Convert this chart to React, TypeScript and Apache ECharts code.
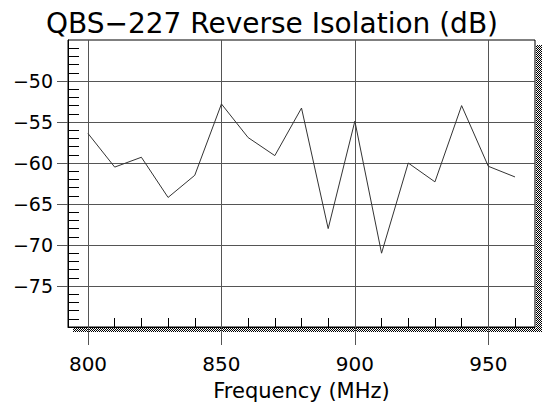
import React, { useEffect, useRef } from 'react';
import * as echarts from 'echarts';

const frequencies = [800, 810, 820, 830, 840, 850, 860, 870, 880, 890, 900, 910, 920, 930, 940, 950, 960];
const isolation = [-56.4, -60.5, -59.3, -64.2, -61.5, -52.8, -56.9, -59.1, -53.3, -68.0, -54.9, -71.0, -60.0, -62.3, -53.0, -60.4, -61.7];
const xTickValues = [800, 850, 900, 950];
const yTickValues = [-75, -70, -65, -60, -55, -50];
const titleText = 'QBS\u2212227 Reverse Isolation (dB)';
const xAxisName = 'Frequency (MHz)';

const FONT = 'DejaVu Sans';

function makeChecker(): string {
  const c = document.createElement('canvas');
  c.width = 2;
  c.height = 2;
  const ctx = c.getContext('2d')!;
  ctx.fillStyle = '#fff';
  ctx.fillRect(0, 0, 2, 2);
  ctx.fillStyle = '#000';
  ctx.fillRect(0, 0, 1, 1);
  ctx.fillRect(1, 1, 1, 1);
  return c.toDataURL();
}

export default function App() {
  const ref = useRef<HTMLDivElement>(null);
  useEffect(() => {
    if (!ref.current) return;
    const chart = echarts.init(ref.current, null, { renderer: 'svg' });
    const pattern: any = { image: makeChecker(), repeat: 'repeat', imageWidth: 2, imageHeight: 2 };
    const gridColor = '#555';
    chart.setOption({
      animation: false,
      backgroundColor: '#fff',
      title: {
        text: titleText,
        left: 'center',
        top: 4,
        textStyle: { fontFamily: FONT, fontSize: 28, fontWeight: 'normal', color: '#000' },
      },
      grid: {
        left: 68,
        top: 40,
        width: 467,
        height: 287,
        show: true,
        borderColor: '#000',
        borderWidth: 1,
        backgroundColor: 'transparent',
      },
      graphic: [
        { type: 'rect', shape: { x: 536, y: 45, width: 6, height: 287 }, style: { fill: pattern }, silent: true },
        { type: 'rect', shape: { x: 73, y: 328, width: 469, height: 4 }, style: { fill: pattern }, silent: true },
      ],
      xAxis: {
        type: 'value',
        min: 792.5,
        max: 967.5,
        splitNumber: 4,
        axisLine: { show: true, lineStyle: { color: '#000', width: 1 } },
        axisTick: { show: true, length: 18, customValues: xTickValues, lineStyle: { color: gridColor } },
        minorTick: { show: true, splitNumber: 5, length: -9, lineStyle: { color: '#000' } },
        splitLine: { show: true, lineStyle: { color: gridColor, width: 1 } },
        axisLabel: { customValues: xTickValues, margin: 27, fontFamily: FONT, fontSize: 20, color: '#000' },
        name: xAxisName,
        nameLocation: 'middle',
        nameGap: 53,
        nameTextStyle: { fontFamily: FONT, fontSize: 21, color: '#000' },
      },
      yAxis: {
        type: 'value',
        min: -80,
        max: -45,
        interval: 5,
        axisLine: { show: true, lineStyle: { color: '#000', width: 1 } },
        axisTick: { show: true, length: 11, customValues: yTickValues, lineStyle: { color: gridColor } },
        minorTick: { show: true, splitNumber: 5, length: -11, lineStyle: { color: '#000' } },
        splitLine: { show: true, lineStyle: { color: gridColor, width: 1 } },
        axisLabel: {
          customValues: yTickValues,
          margin: 15,
          fontFamily: FONT,
          fontSize: 19,
          color: '#000',
          formatter: (v: number) => (v < 0 ? '\u2212' + Math.abs(v) : String(v)),
        },
      },
      series: [
        {
          type: 'line',
          data: frequencies.map((f, i) => [f, isolation[i]]),
          symbol: 'none',
          lineStyle: { color: '#333', width: 1 },
        },
      ],
    });
    return () => chart.dispose();
  }, []);
  return <div ref={ref} style={{ width: 544, height: 407, position: 'absolute', left: 0, top: 0 }} />;
}
